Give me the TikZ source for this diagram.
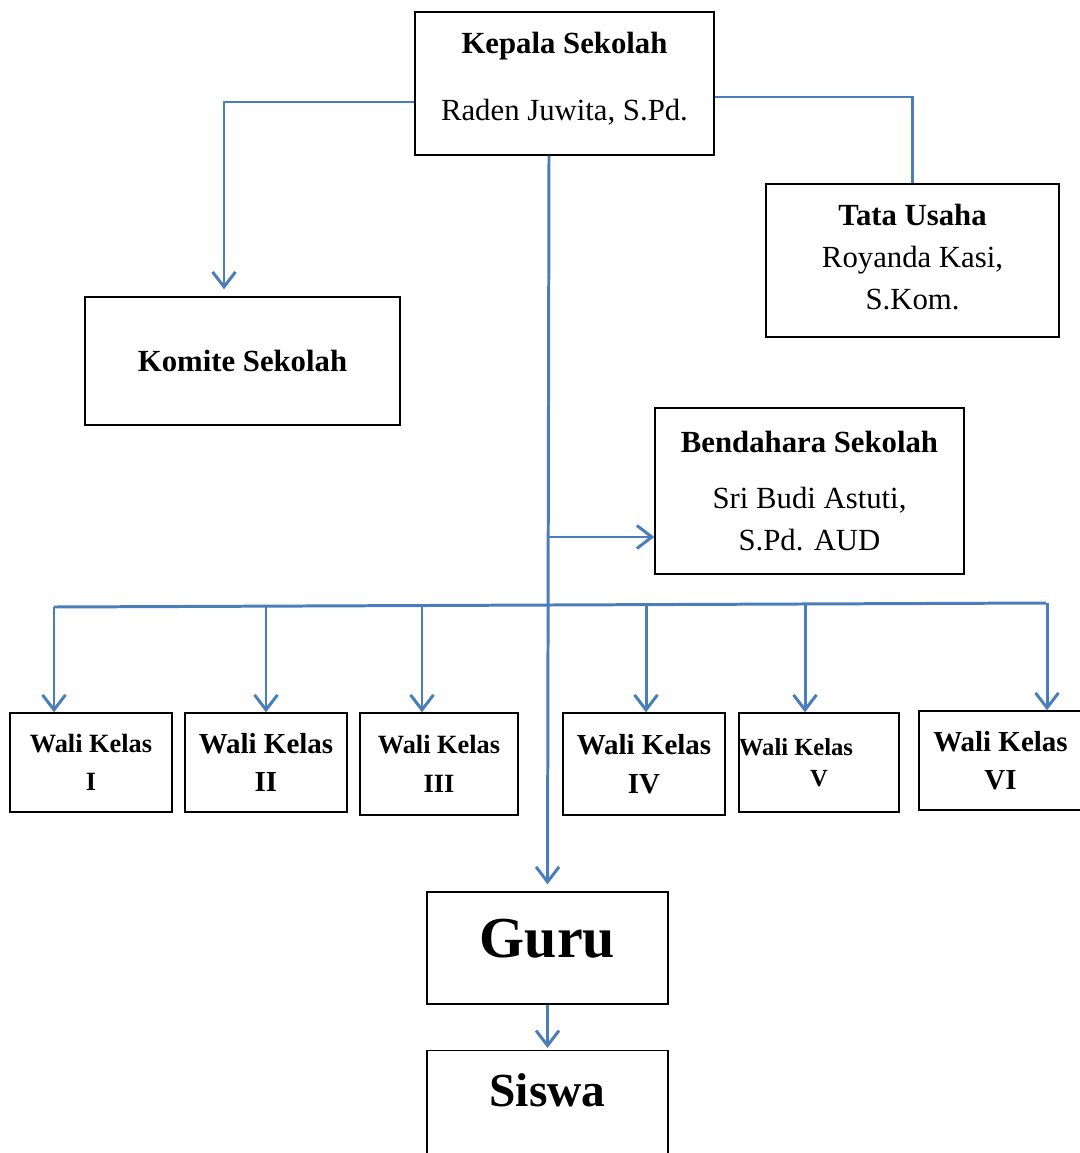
\documentclass[tikz,border=0pt]{standalone}
\usepackage{fontspec}
\setmainfont{Liberation Serif}
\usetikzlibrary{arrows.meta}
\definecolor{linkblue}{HTML}{4A7EBB}

\begin{document}
\begin{tikzpicture}[x=0.02cm,y=-0.02cm,
  box/.style={draw,line width=0.8pt,inner sep=0pt,align=center,font=\fontsize{17.5}{24}\selectfont},
  link/.style={linkblue,line width=1.7pt},
  conn/.style={link,-{Straight Barb[length=0.3cm,width=0.46cm]}}]
  \useasboundingbox (0,0) rectangle (1079,1153);
  % head and staff
  \node[box,minimum width=5.98cm,minimum height=2.86cm,text depth=0.28cm] (kepala) at (564.5,83.5) {\textbf{Kepala Sekolah}\\[14pt]Raden Juwita, S.Pd.};
  \node[box,minimum width=6.3cm,minimum height=2.56cm] (komite) at (242.5,361) {\textbf{Komite Sekolah}};
  \node[box,minimum width=5.86cm,minimum height=3.06cm,text depth=0.16cm] (tata) at (912.5,260.5) {\textbf{Tata Usaha}\\Royanda Kasi,\\S.Kom.};
  \node[box,minimum width=6.18cm,minimum height=3.32cm] (bendahara) at (809.5,491) {\textbf{Bendahara Sekolah}\\[8pt]Sri Budi Astuti,\\S.Pd. AUD};
  % guru and siswa
  \node[box,minimum width=4.82cm,minimum height=2.24cm,text depth=0.4cm,font=\fontsize{33}{36}\selectfont\bfseries] (guru) at (547.5,948) {Guru};
  \node[box,anchor=north,minimum width=4.82cm,text height=0.65cm,text depth=1.6cm,inner ysep=0.47cm,font=\fontsize{27}{30}\selectfont\bfseries] (siswa) at (547.5,1050) {Siswa};
  % links from the head
  \coordinate (spine) at ([xshift=-0.31cm]kepala.south);
  \draw[conn] ([yshift=-0.37cm]kepala.west) -| ([xshift=-0.37cm,yshift=0.14cm]komite.north);
  \draw[link] ([yshift=-0.27cm]kepala.east) -| (tata.north);
  \draw[conn,shorten >=0.14cm] (spine) -- (guru.north);
  \coordinate (bj) at ([yshift=-0.92cm]bendahara.west);
  \draw[conn] (bj -| spine) -- (bj);
  \draw[conn,shorten >=0.04cm] (guru.south) -- (siswa.north);
  % wali kelas
  \coordinate (busL) at (54,607);
  \coordinate (busR) at (1046,603);
  \draw[link] (busL) -- (busR);
  \foreach \i/\n/\cx/\cy/\w/\h/\fs/\bs/\pad/\dx/\dy in {
    1/I/91/762.5/3.24cm/1.98cm/15/22/0cm/54/607,
    2/II/266/762.5/3.24cm/1.98cm/16.5/22/0cm/266/606,
    3/III/439/764/3.16cm/2.04cm/15/22/0cm/422/605.5,
    4/IV/644/764/3.24cm/2.04cm/16.5/22/0cm/646/604.6,
    5/V/819/762.5/3.16cm/1.98cm/14/18/0.92cm/805/604,
    6/VI/1000.5/760.5/3.26cm/1.98cm/16.5/22/0cm/1047/603}{
    \node[box,minimum width=\w,minimum height=\h,font=\fontsize{\fs}{\bs}\selectfont\bfseries] (wali\i) at (\cx,\cy) {Wali Kelas\hspace*{\pad}\\\n};
    \coordinate (drop\i) at (\dx,\dy);
    \draw[conn] (drop\i) -- (drop\i |- wali\i.north);
  }
\end{tikzpicture}
\end{document}
